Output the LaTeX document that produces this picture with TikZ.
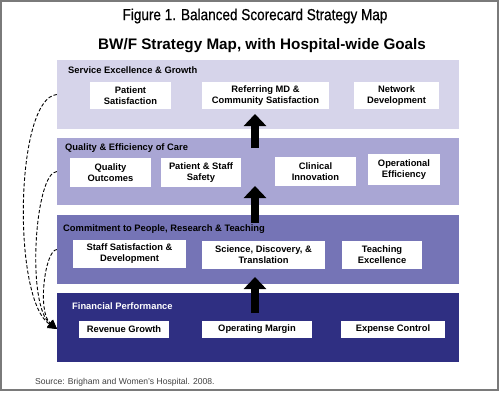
\documentclass[tikz,border=0pt]{standalone}
\usepackage{fontspec}
\setmainfont{Liberation Sans}
\newfontfamily\condfont[FakeStretch=0.85,FakeBold=0.6]{Liberation Sans}
\usetikzlibrary{arrows.meta}
\definecolor{bandA}{HTML}{D6D4EA}
\definecolor{bandB}{HTML}{A9A6D4}
\definecolor{bandC}{HTML}{7574B6}
\definecolor{bandD}{HTML}{2F2F82}
\definecolor{framegray}{HTML}{7A7A7A}
\newcommand\mybox[7][box]{\node[#1, minimum width={(#5-#3)*1bp}, minimum height={(#6-#4)*1bp}] (#2) at ({(#3+#5)/2},{(#4+#6)/2}) {#7};}
\tikzset{
  box/.style={draw=none, fill=white, inner sep=0pt, align=center,
    font=\fontsize{9.4}{11}\selectfont\bfseries, text=black},
  band/.style={draw=none, inner sep=0pt},
  bandlabel/.style={anchor=west, inner sep=0pt, font=\fontsize{9.4}{11}\selectfont\bfseries},
  uparrow/.style={line width=8bp, -{Triangle[width=22bp,length=12bp]}},
  feedback/.style={line width=0.9bp, dash pattern=on 3.5bp off 2bp, -{Triangle[width=9bp,length=9bp]}}
}
\begin{document}
\begin{tikzpicture}[x=1bp,y=-1bp]
\useasboundingbox (0,0) rectangle (500,392);
\draw[framegray, line width=2bp] (1,1) rectangle (498,390);
\node[font=\condfont\fontsize{16}{18}\selectfont] (title) at (255,16) {Figure 1. Balanced Scorecard Strategy Map};
\node[font=\fontsize{15.3}{17}\selectfont\bfseries] (subtitle) at (262,46) {BW/F Strategy Map, with Hospital-wide Goals};
% bands
\mybox[band, fill=bandA]{b1}{57}{60}{459}{129}{}
\mybox[band, fill=bandB]{b2}{57}{138}{459}{205}{}
\mybox[band, fill=bandC]{b3}{57}{215}{459}{284}{}
\mybox[band, fill=bandD]{b4}{57}{293}{459}{362}{}
\node[bandlabel] (l1) at (68,70) {Service Excellence \& Growth};
\node[bandlabel] (l2) at (65,148) {Quality \& Efficiency of Care};
\node[bandlabel] (l3) at (63,229) {Commitment to People, Research \& Teaching};
\node[bandlabel, text=white] (l4) at (72,306) {Financial Performance};
% boxes
\mybox{ps}{90}{82}{171}{109}{Patient\\Satisfaction}
\mybox{rmd}{202}{82}{329}{109}{Referring MD \&\\Community Satisfaction}
\mybox{nd}{354}{82}{439}{109}{Network\\Development}
\mybox{qo}{70}{158}{151}{187}{Quality\\Outcomes}
\mybox{pss}{161}{158}{241}{187}{Patient \& Staff\\Safety}
\mybox{ci}{275}{157}{356}{186}{Clinical\\Innovation}
\mybox{oe}{368}{154}{440}{185}{Operational\\Efficiency}
\mybox{ssd}{73}{240}{186}{268}{Staff Satisfaction \&\\Development}
\mybox{sdt}{202}{241}{325}{269}{Science, Discovery, \&\\Translation}
\mybox{te}{342}{241}{422}{269}{Teaching\\Excellence}
\mybox{rg}{79}{321}{169}{338}{Revenue Growth}
\mybox{om}{202}{321}{312}{338}{Operating Margin}
\mybox{ec}{341}{321}{445}{338}{Expense Control}
% up arrows
\coordinate (a1s) at (255,148); \coordinate (a1e) at (255,114);
\coordinate (a2s) at (255,223); \coordinate (a2e) at (255,186);
\coordinate (a3s) at (255,313); \coordinate (a3e) at (255,277);
\draw[uparrow] (a1s) -- (a1e);
\draw[uparrow] (a2s) -- (a2e);
\draw[uparrow] (a3s) -- (a3e);
% feedback dashed curves
\coordinate (fin) at (57,329);
\draw[feedback] (b1.west) .. controls (15,98) and (12,300) .. (fin);
\draw[feedback] (b2.west) .. controls (35,172) and (26,305) .. (fin);
\draw[feedback] (b3.west) .. controls (45,250) and (37,312) .. (fin);
\node[anchor=west, inner sep=0pt, text=black!75, font=\fontsize{8.6}{10}\selectfont] (src) at (35,382) {Source: Brigham and Women's Hospital. 2008.};
\end{tikzpicture}
\end{document}
